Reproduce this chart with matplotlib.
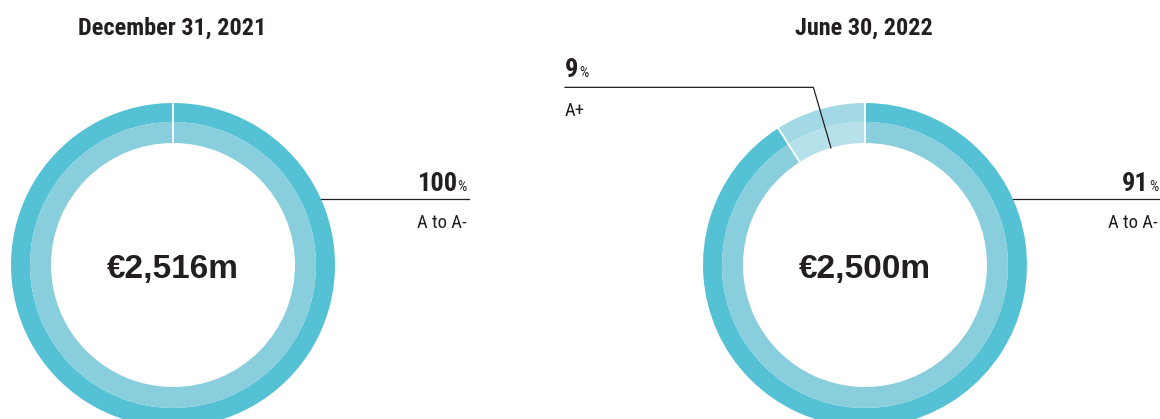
import numpy as np
import matplotlib
matplotlib.use('Agg')
import matplotlib.pyplot as plt

# rating split of the portfolio at the two dates
titles = ['December 31, 2021', 'June 30, 2022']
totals = ['€2,516m', '€2,500m']
shares = [[100], [91, 9]]
ratings = [['A to A-'], ['A to A-', 'A+']]

W, H = 1160, 419
COND = ['Roboto Condensed', 'DejaVu Sans']
INK = '#231f20'

outer_cols = {'A to A-': '#55c1d5', 'A+': '#a3d8e5'}
inner_cols = {'A to A-': '#88cedd', 'A+': '#b6e0ea'}

centers = [(173, 265), (865, 265)]
R_OUT, R_MID, R_IN = 162, 143, 122


def py(y):
    # pixel row (from top) -> data y
    return H - y


fig = plt.figure(figsize=(W / 100, H / 100), dpi=100)
ax = fig.add_axes([0, 0, 1, 1])
renderer = fig.canvas.get_renderer()


def text_width(t):
    return t.get_window_extent(renderer=renderer).width


def value_label(x, y, num, align):
    # bold number followed by a small regular percent sign
    if align == 'right':
        pct = ax.text(x, py(y), '%', fontsize=10.5, family=COND, color=INK,
                      ha='right', va='baseline')
        ax.text(x - text_width(pct), py(y), str(num), fontsize=19,
                family=COND, weight='bold', color=INK, ha='right', va='baseline')
    else:
        n = ax.text(x, py(y), str(num), fontsize=19, family=COND,
                    weight='bold', color=INK, ha='left', va='baseline')
        ax.text(x + text_width(n) + 1, py(y), '%', fontsize=10.5, family=COND,
                color=INK, ha='left', va='baseline')


right_edges = [467, 1158]

for i, (cx, cy) in enumerate(centers):
    vals = shares[i]
    labs = ratings[i]
    c = (cx, py(cy))
    ax.pie(vals, radius=R_OUT, center=c, startangle=90, counterclock=False,
           colors=[outer_cols[l] for l in labs],
           wedgeprops=dict(width=R_OUT - R_MID, linewidth=0))
    ax.pie(vals, radius=R_MID, center=c, startangle=90, counterclock=False,
           colors=[inner_cols[l] for l in labs],
           wedgeprops=dict(width=R_MID - R_IN, linewidth=0))

    # white separators between slices
    bounds = 90 - 3.6 * np.concatenate([[0], np.cumsum(vals)[:-1]])
    for a in np.radians(bounds):
        ax.plot([c[0] + R_IN * np.cos(a), c[0] + (R_OUT + 1) * np.cos(a)],
                [c[1] + R_IN * np.sin(a), c[1] + (R_OUT + 1) * np.sin(a)],
                color='white', lw=1.3, solid_capstyle='butt')

    ax.text(cx - 1, py(35), titles[i], fontsize=17.5, family=COND,
            weight='bold', color=INK, ha='center', va='baseline')
    ax.text(cx, py(278), totals[i], fontsize=24, family='Liberation Sans',
            weight='bold', color=INK, ha='center', va='baseline')

    # main slice label on the right
    ly = 199
    dy = cy - ly
    x0 = cx + np.sqrt(R_OUT ** 2 - dy ** 2)
    xr = right_edges[i]
    ax.plot([x0, min(xr + 2, W)], [py(ly), py(ly)], color=INK, lw=0.9)
    value_label(xr, 191, vals[0], 'right')
    ax.text(xr, py(228), labs[0], fontsize=13.5, family=COND, color=INK,
            ha='right', va='baseline')

    # small slice label with an elbow leader
    if len(vals) > 1:
        start = 90 - 3.6 * vals[0]
        mid = np.radians(start - 3.6 * vals[1] / 2)
        r_top = 185
        ex, ey = c[0] + r_top * np.cos(mid), c[1] + r_top * np.sin(mid)
        ax.plot([c[0] + R_IN * np.cos(mid), ex, 565], [c[1] + R_IN * np.sin(mid), ey, ey],
                color=INK, lw=0.9)
        value_label(565, 77, vals[1], 'left')
        ax.text(565, py(116), labs[1], fontsize=13.5, family=COND, color=INK,
                ha='left', va='baseline')

ax.set_xlim(0, W)
ax.set_ylim(0, H)
ax.set_aspect('equal')
ax.axis('off')

fig.savefig('out.png', dpi=100)
